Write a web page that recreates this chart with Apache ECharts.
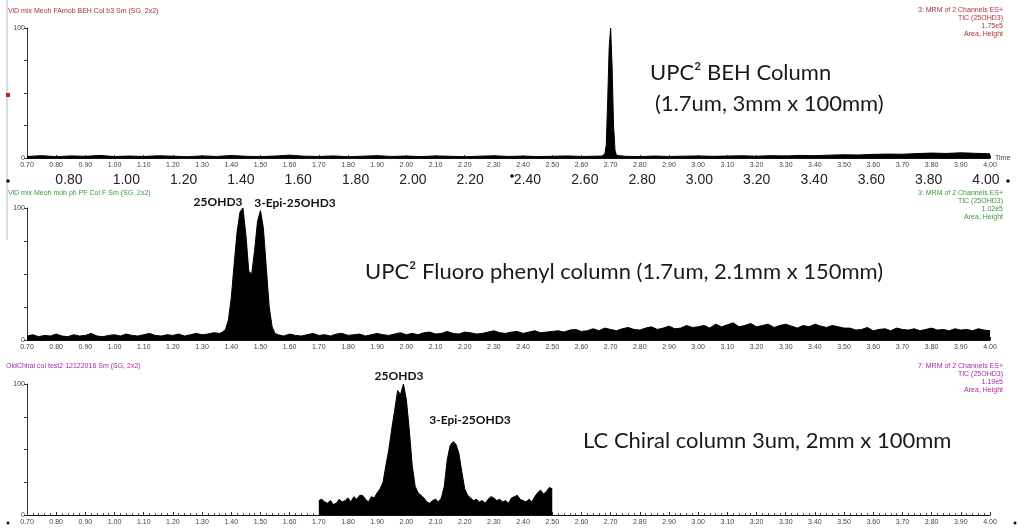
<!DOCTYPE html>
<html>
<head>
<meta charset="utf-8">
<script src="https://cdn.jsdelivr.net/npm/echarts@6/dist/echarts.min.js"></script>
<style>
  html, body { margin: 0; padding: 0; background: #fff; }
  #chart { width: 1018px; height: 532px; }
</style>
</head>
<body>
<div id="chart"></div>
<script>
// ---- data (relative intensity %) ----

// panel 1: UPC2 BEH column
const behBaseAStart = 0.70, behBaseAStep = 0.05;
const behBaseA = [1.2,1.8,1.0,1.6,1.3, 2.0,1.1,1.5,1.2,1.7, 1.4,1.0,1.6,1.2,1.9,
  1.3,1.1,1.5,2.2,1.4, 1.2,1.6,1.0,1.4,1.8, 1.2,1.5,1.1,1.6,1.3,
  1.0,1.4,1.7,1.2,1.5, 1.1,1.3,1.6,1.2,1.4];
const behPeakTime = [2.67, 2.68, 2.685, 2.69, 2.695, 2.70, 2.705, 2.71, 2.715, 2.72];
const behPeakValue = [1.5, 3, 10, 45, 85, 100, 70, 25, 6, 2];
const behBaseBStart = 2.75, behBaseBStep = 0.05;
const behBaseB = [1.3,1.1,1.5,1.2,1.4, 1.6,1.3,1.5,1.7,1.4, 1.8,1.6,2.0,1.8,2.2,
  2.5,2.3,2.8,3.0,2.9, 3.4,3.8,3.5,4.0,3.6, 3.2];

// panel 2: UPC2 fluoro phenyl column
const pfBaseAStart = 0.70, pfBaseAStep = 0.02;
const pfBaseA = [3,4,2.5,3.5,3, 4.5,3,2.5,4,3, 3.5,5,3,2.5,3.5, 4,3,4.5,3.5,3,
  4,5,3.5,3,4, 3.5,4.5,3,4,5, 4,4.5,5.5];
const pfPeakStart = 1.36, pfPeakStep = 0.01;
const pfPeak = [5,6,8,15,32, 58,82,97,100,80, 52,50,68,90,98, 85,55,25,10,5];
const pfBaseBStart = 1.56, pfBaseBStep = 0.02;
const pfBaseB = [
  4,3,4.5,3.5,3, 4,5,3.5,4,3, 4.5,5,3.5,4,4.5, 3,4,5,4,3.5, 4.5,5.5,4,
  5,4,5.5,6,4.5, 5,6.5,5,4.5,6, 5.5,4.5,5,6,7, 5.5,5,6,6.5,5, 6,7,5.5,6,6.5,
  7,6,7.5,8,6.5, 7,8.5,7,9,8, 7,8.5,9.5,8,7.5, 9,10,8,9,10.5, 8.5,9,11,9.5,10,
  11,9,12,10,11.5, 13,10,11,12.5,10, 11,12,9.5,11,12, 10.5,9,11,10,12, 10.5,9.5,11,10,9,
  9,7.5,8,9.5,7, 8,8.5,7,9,8, 7.5,8.5,7,8,9, 7.5,8,7,8.5,7.5, 8,7,8.5,7.5,7
];

// panel 3: LC chiral column
const chiralStart = 1.70, chiralStep = 0.01;
const chiral = [
  11,12,10,9,11,8,9,12,10,11,
  13,10,14,12,15,15,12,10,14,13,
  17,20,25,38,50,66,80,95,92,100,
  88,65,38,22,17,15,13,10,9,11,
  12,10,13,22,42,53,56,54,47,33,
  20,15,13,11,12,10,11,9,12,14,
  13,11,12,10,11,9,13,14,15,12,
  11,10,12,10,14,17,19,16,18,21,
  20
];

// big overlay labels on the first panel's time axis
const bigTicks = [0.8,1.0,1.2,1.4,1.6,1.8,2.0,2.2,2.4,2.6,2.8,3.0,3.2,3.4,3.6,3.8,4.0];

function seq(start, step, values) {
  return values.map((v, i) => [+(start + i * step).toFixed(3), v]);
}

const behData = seq(behBaseAStart, behBaseAStep, behBaseA)
  .concat(behPeakTime.map((t, i) => [t, behPeakValue[i]]))
  .concat(seq(behBaseBStart, behBaseBStep, behBaseB));
const pfData = seq(pfBaseAStart, pfBaseAStep, pfBaseA)
  .concat(seq(pfPeakStart, pfPeakStep, pfPeak))
  .concat(seq(pfBaseBStart, pfBaseBStep, pfBaseB));
const chiralData = seq(chiralStart, chiralStep, chiral);

const chart = echarts.init(document.getElementById('chart'), null, { renderer: 'canvas' });

const small = 'Liberation Sans';
const calibri = 'Lato';

function timeAxis(gridIndex, extra) {
  return Object.assign({
    type: 'value',
    gridIndex: gridIndex,
    min: 0.7,
    max: 4.0,
    interval: 0.1,
    axisLine: { show: true, onZero: false, lineStyle: { color: '#111', width: 1.2 } },
    axisTick: { show: true, inside: true, length: 3, lineStyle: { color: '#333' } },
    minorTick: { show: true, splitNumber: 5, length: 2, lineStyle: { color: '#555' } },
    axisLabel: { fontSize: 7, color: '#444', margin: 4, fontFamily: small,
      formatter: v => v.toFixed(2) },
    splitLine: { show: false }
  }, extra || {});
}

function pctAxis(gridIndex) {
  return {
    type: 'value',
    gridIndex: gridIndex,
    min: 0,
    max: 100,
    interval: 25,
    axisLine: { show: true, lineStyle: { color: '#333' } },
    axisTick: { show: true, length: 3, lineStyle: { color: '#333' } },
    splitLine: { show: false },
    axisLabel: { fontSize: 7, color: '#444', margin: 2, fontFamily: small,
      formatter: v => (v === 0 || v === 100) ? String(v) : '' }
  };
}

function trace(xIdx, yIdx, data) {
  return {
    type: 'line',
    xAxisIndex: xIdx,
    yAxisIndex: yIdx,
    data: data,
    symbol: 'none',
    lineStyle: { color: '#000', width: 1 },
    areaStyle: { color: '#000', opacity: 1 }
  };
}

function txt(text, x, y, size, color, opts) {
  return {
    type: 'text',
    x: x, y: y,
    style: Object.assign({
      text: text,
      fontSize: size,
      fontFamily: small,
      fill: color,
      verticalAlign: 'middle'
    }, opts || {})
  };
}

function rightHeader(lines, y0, color) {
  return lines.map((s, i) => txt(s, 1003, y0 + i * 8, 7, color, { align: 'right' }));
}

const red = '#a8343a', green = '#3a9a3a', purple = '#a52aa8';

const option = {
  animation: false,
  backgroundColor: '#fff',
  grid: [
    { left: 27, right: 28, top: 28, height: 130 },
    { left: 27, right: 28, top: 208, height: 132 },
    { left: 27, right: 28, top: 384, height: 131 }
  ],
  xAxis: [
    timeAxis(0, { name: 'Time', nameLocation: 'end', nameGap: 5,
      nameTextStyle: { fontSize: 7, color: '#444', fontFamily: small, verticalAlign: 'middle' } }),
    {
      type: 'value', gridIndex: 0, position: 'bottom', min: 0.6535, max: 4.014,
      axisLine: { show: false }, axisTick: { show: false }, splitLine: { show: false },
      axisLabel: { customValues: bigTicks, formatter: v => v.toFixed(2),
        fontSize: 14, color: '#222', margin: 15, fontFamily: small }
    },
    timeAxis(1),
    timeAxis(2)
  ],
  yAxis: [pctAxis(0), pctAxis(1), pctAxis(2)],
  series: [
    trace(0, 0, behData),
    trace(2, 1, pfData),
    trace(3, 2, chiralData)
  ],
  graphic: [
    { type: 'line', shape: { x1: 7, y1: 0, x2: 7, y2: 240 }, style: { stroke: '#bbb', lineWidth: 1 } },
    { type: 'rect', shape: { x: 6, y: 93, width: 4, height: 4 }, style: { fill: '#b22' } },
    { type: 'circle', shape: { cx: 8, cy: 181, r: 1.8 }, style: { fill: '#111' } },
    { type: 'circle', shape: { cx: 512, cy: 176, r: 1.8 }, style: { fill: '#111' } },
    { type: 'circle', shape: { cx: 1008, cy: 181, r: 1.8 }, style: { fill: '#111' } },
    { type: 'circle', shape: { cx: 8, cy: 523, r: 1.5 }, style: { fill: '#111' } },
    { type: 'circle', shape: { cx: 1015, cy: 523, r: 1.5 }, style: { fill: '#111' } },

    txt('ViD mix Meoh FAmob BEH Col b3 Sm (SG, 2x2)', 8, 11, 7, red),
    ...rightHeader(['3: MRM of 2 Channels ES+', 'TIC (25OHD3)', '1.75e5', 'Area, Height'], 10, red),
    txt('ViD mix Meoh mob ph PF Col F Sm (SG, 2x2)', 8, 193, 7, green),
    ...rightHeader(['3: MRM of 2 Channels ES+', 'TIC (25OHD3)', '1.02e5', 'Area, Height'], 193, green),
    txt('OldChiral col test2 12122016 Sm (SG, 2x2)', 6, 366, 7, purple),
    ...rightHeader(['7: MRM of 2 Channels ES+', 'TIC (25OHD3)', '1.19e5', 'Area, Height'], 366, purple),

    txt('UPC² BEH Column', 650, 73, 22, '#1a1a1a', { fontFamily: calibri }),
    txt('(1.7um, 3mm x 100mm)', 655, 104, 22, '#1a1a1a', { fontFamily: calibri }),
    txt('UPC² Fluoro phenyl column (1.7um, 2.1mm x 150mm)', 365, 272, 22, '#1a1a1a', { fontFamily: calibri }),
    txt('LC Chiral column 3um, 2mm x 100mm', 583, 441, 22, '#1a1a1a', { fontFamily: calibri }),

    txt('25OHD3', 218, 202, 12, '#111', { fontFamily: calibri, fontWeight: 'bold', align: 'center' }),
    txt('3-Epi-25OHD3', 295, 203, 12, '#111', { fontFamily: calibri, fontWeight: 'bold', align: 'center' }),
    txt('25OHD3', 399, 376, 12, '#111', { fontFamily: calibri, fontWeight: 'bold', align: 'center' }),
    txt('3-Epi-25OHD3', 470, 420, 12, '#111', { fontFamily: calibri, fontWeight: 'bold', align: 'center' })
  ]
};

chart.setOption(option);
</script>
</body>
</html>
